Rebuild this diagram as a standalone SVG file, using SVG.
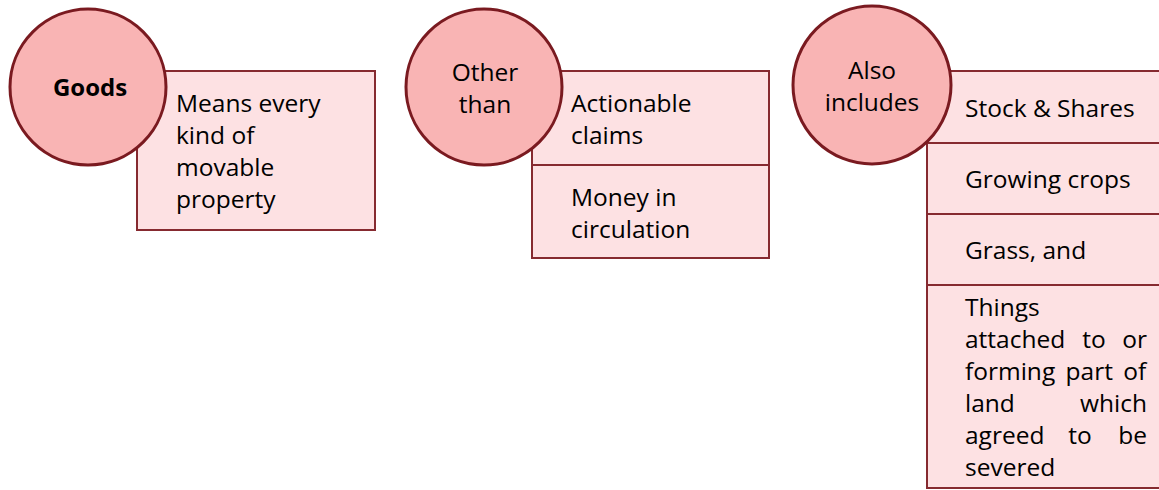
<svg xmlns="http://www.w3.org/2000/svg" width="1159" height="490" viewBox="0 0 1159 490">
<style>
.box{fill:#FDE1E3;stroke:#862A30;stroke-width:2}
.circ{fill:#F9B4B4;stroke:#7A1A20;stroke-width:3}
text{font-family:"Open Sans","Noto Sans",sans-serif;font-size:24.5px;fill:#000}
.b{font-weight:bold;font-size:24px}
.m{text-anchor:middle}
.e{text-anchor:end}
</style>
<rect width="1159" height="490" fill="#fff"/>
<g id="connectors"></g>
<g id="goods-def">
<rect class="box" x="137" y="71" width="238" height="159"/>
<text x="176" y="112">Means every</text>
<text x="176" y="144">kind of</text>
<text x="176" y="176">movable</text>
<text x="176" y="208">property</text>
</g>
<g id="goods">
<circle class="circ" cx="88" cy="87" r="78"/>
<text class="b m" x="90" y="96">Goods</text>
</g>
<g id="actionable">
<rect class="box" x="532" y="71" width="237" height="94"/>
<text x="571" y="112">Actionable</text>
<text x="571" y="144">claims</text>
</g>
<g id="money">
<rect class="box" x="532" y="165" width="237" height="93"/>
<text x="571" y="206">Money in</text>
<text x="571" y="238">circulation</text>
</g>
<g id="other-than">
<circle class="circ" cx="484" cy="87" r="78"/>
<text class="m" x="485" y="81">Other</text>
<text class="m" x="485" y="113">than</text>
</g>
<g id="stock">
<rect class="box" x="927" y="71" width="234" height="72"/>
<text x="965" y="117">Stock &amp; Shares</text>
</g>
<g id="crops">
<rect class="box" x="927" y="143" width="234" height="71"/>
<text x="965" y="188">Growing crops</text>
</g>
<g id="grass">
<rect class="box" x="927" y="214" width="234" height="71"/>
<text x="965" y="259">Grass, and</text>
</g>
<g id="things">
<rect class="box" x="927" y="285" width="234" height="203"/>
<text x="965" y="316">Things</text>
<text x="965" y="348">attached</text><text class="m" x="1094" y="348">to</text><text class="e" x="1147" y="348">or</text>
<text x="965" y="380" style="word-spacing:4px">forming part of</text>
<text x="965" y="412">land</text><text class="e" x="1147" y="412">which</text>
<text x="965" y="444">agreed</text><text class="m" x="1080" y="444">to</text><text class="e" x="1147" y="444">be</text>
<text x="965" y="476">severed</text>
</g>
<g id="also-includes">
<circle class="circ" cx="872" cy="85" r="79"/>
<text class="m" x="872" y="79">Also</text>
<text class="m" x="872" y="111">includes</text>
</g>
</svg>
